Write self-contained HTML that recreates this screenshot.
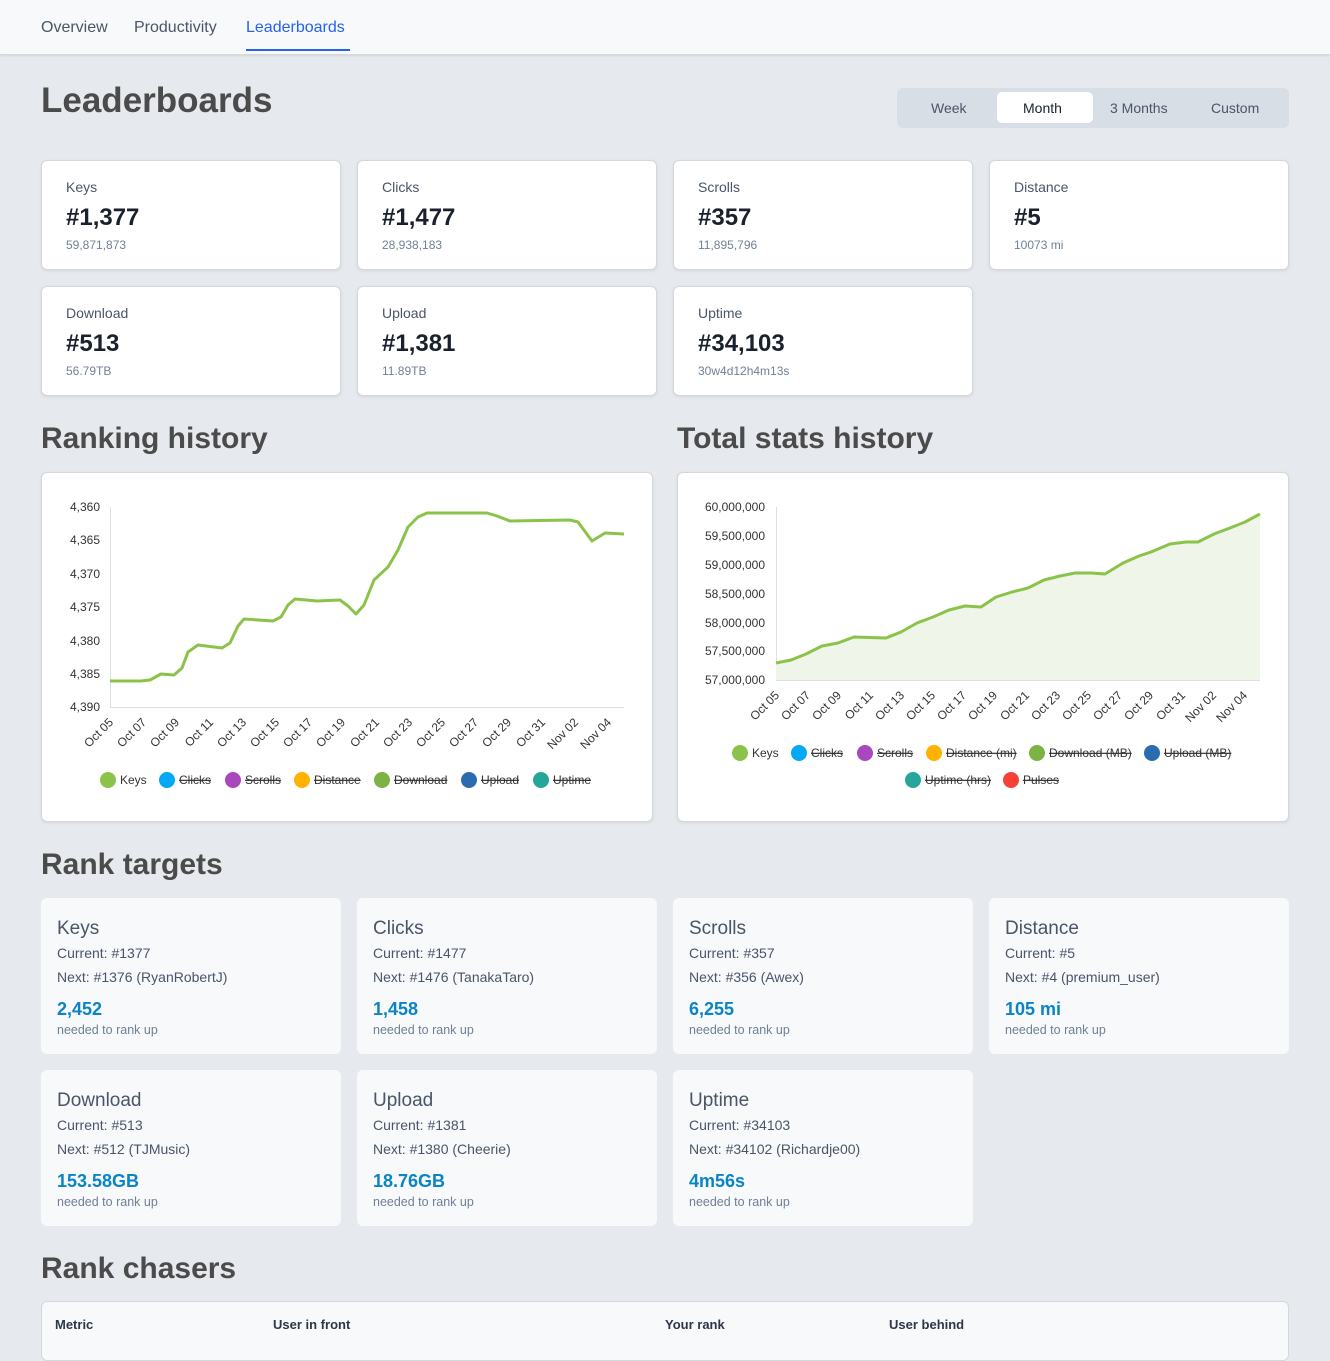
<!DOCTYPE html>
<html><head><meta charset="utf-8"><style>
*{box-sizing:border-box;margin:0;padding:0}
body{width:1330px;height:1329px;overflow:hidden;background:#e6e9ed;font-family:"Liberation Sans","Noto Sans CJK JP",sans-serif;position:relative;color:#4a5568}
.nav{position:absolute;left:0;top:0;width:1330px;height:55px;background:#f8f9fb;border-bottom:1px solid #d5d9de;box-shadow:0 1px 2px rgba(0,0,0,.08)}
.nav span{position:absolute;top:19px;font-size:16px;color:#4a5568}
.a{position:absolute}
h1,h2{position:absolute;left:41px;color:#4b4b4b;font-weight:bold}
h1{font-size:35px;top:81px}
h2{font-size:30px}
.seg{position:absolute;left:897px;top:88px;width:392px;height:40px;background:#d8dee5;border-radius:6px}
.seg span{position:absolute;top:12px;font-size:14px;color:#4a5568}
.card{position:absolute;width:300px;height:110px;background:#fff;border:1px solid #d3d8de;border-radius:6px;box-shadow:0 1px 3px rgba(0,0,0,.08)}
.card .l{position:absolute;left:24px;top:18px;font-size:14px;color:#4a5568}
.card .b{position:absolute;left:24px;top:43px;font-size:24px;font-weight:bold;color:#1a202c}
.card .s{position:absolute;left:24px;top:77px;font-size:12px;color:#718096}
.t{position:absolute;width:300px;height:156px;background:#f7f9fb;border-radius:6px}
.t .h{position:absolute;left:16px;top:20px;font-size:19px;color:#4a5568}
.t .c{position:absolute;left:16px;top:47px;font-size:14px;color:#4a5568}
.t .n{position:absolute;left:16px;top:71px;font-size:14px;color:#4a5568}
.t .v{position:absolute;left:16px;top:101px;font-size:18px;font-weight:bold;color:#0a84c6}
.t .u{position:absolute;left:16px;top:125px;font-size:12.5px;color:#718096}
.panel{position:absolute;top:472px;width:612px;height:350px;background:#fff;border:1px solid #d3d8de;border-radius:6px;box-shadow:0 1px 3px rgba(0,0,0,.08)}
</style></head><body>
<div class="nav">
<span style="left:41px">Overview</span>
<span style="left:134px">Productivity</span>
<span style="left:246px;color:#2563eb">Leaderboards</span>
<div class="a" style="left:246px;top:49px;width:104px;height:2px;background:#2563eb"></div>
</div>
<h1>Leaderboards</h1>
<div class="seg">
<div class="a" style="left:100px;top:4px;width:96px;height:31px;background:#fff;border-radius:5px"></div>
<span style="left:34px">Week</span>
<span style="left:126px;color:#1a202c">Month</span>
<span style="left:213px">3 Months</span>
<span style="left:314px">Custom</span>
</div>

<div class="card" style="left:41px;top:160px"><div class="l">Keys</div><div class="b">#1,377</div><div class="s">59,871,873</div></div>
<div class="card" style="left:357px;top:160px"><div class="l">Clicks</div><div class="b">#1,477</div><div class="s">28,938,183</div></div>
<div class="card" style="left:673px;top:160px"><div class="l">Scrolls</div><div class="b">#357</div><div class="s">11,895,796</div></div>
<div class="card" style="left:989px;top:160px"><div class="l">Distance</div><div class="b">#5</div><div class="s">10073 mi</div></div>
<div class="card" style="left:41px;top:286px"><div class="l">Download</div><div class="b">#513</div><div class="s">56.79TB</div></div>
<div class="card" style="left:357px;top:286px"><div class="l">Upload</div><div class="b">#1,381</div><div class="s">11.89TB</div></div>
<div class="card" style="left:673px;top:286px"><div class="l">Uptime</div><div class="b">#34,103</div><div class="s">30w4d12h4m13s</div></div>

<h2 style="top:422px">Ranking history</h2>
<h2 style="top:422px;left:677px">Total stats history</h2>
<div class="panel" style="left:41px"></div>
<div class="panel" style="left:677px"></div>

<svg class="a" style="left:0;top:0" width="1330" height="1329" font-family="Liberation Sans, Arial, sans-serif">
<g stroke="#dcdfe3" stroke-width="1" fill="none">
<path d="M110.5 507V707.5H624"/>
<path d="M776.5 507V680.5H1260"/>
</g>
<g font-size="12" fill="#333" text-anchor="end">
<text x="100" y="511">4,360</text><text x="100" y="544">4,365</text><text x="100" y="578">4,370</text><text x="100" y="611">4,375</text><text x="100" y="645">4,380</text><text x="100" y="678">4,385</text><text x="100" y="711">4,390</text>
<text x="765" y="511">60,000,000</text><text x="765" y="540">59,500,000</text><text x="765" y="569">59,000,000</text><text x="765" y="598">58,500,000</text><text x="765" y="627">58,000,000</text><text x="765" y="655">57,500,000</text><text x="765" y="684">57,000,000</text>
</g>
<path d="M776,663 L791,660 806,654 822,646 838,643 854,637 886,638 901,632 917,623 933,617 949,610 965,606 981,607 996,597 1012,592 1028,588 1044,580 1060,576 1075,573 1091,573 1105,574 1123,563 1139,556 1151,552 1170,544 1186,542 1198,542 1214,534 1230,528 1245,522 1260,514 L1260,680 L776,680Z" fill="#eff5e8"/>
<polyline fill="none" stroke="#8bc34a" stroke-width="3" stroke-linejoin="round" points="776,663 791,660 806,654 822,646 838,643 854,637 886,638 901,632 917,623 933,617 949,610 965,606 981,607 996,597 1012,592 1028,588 1044,580 1060,576 1075,573 1091,573 1105,574 1123,563 1139,556 1151,552 1170,544 1186,542 1198,542 1214,534 1230,528 1245,522 1260,514"/>
<polyline fill="none" stroke="#8bc34a" stroke-width="3" stroke-linejoin="round" points="110,681 141,681 150,680 161,674 174,675 182,668 188,652 198,645 222,648 230,643 238,626 244,619 273,621 281,617 288,605 295,599 317,601 340,600 348,606 356,614 364,605 374,580 388,567 398,550 408,527 418,517 427,513 439,513 487,513 497,516 510,521 570,520 578,522 592,541 605,533 624,534"/>
<g font-size="12" fill="#333" text-anchor="end">
<text transform="translate(114,723) rotate(-45)">Oct 05</text><text transform="translate(147,723) rotate(-45)">Oct 07</text><text transform="translate(180,723) rotate(-45)">Oct 09</text><text transform="translate(214,723) rotate(-45)">Oct 11</text><text transform="translate(247,723) rotate(-45)">Oct 13</text><text transform="translate(280,723) rotate(-45)">Oct 15</text><text transform="translate(313,723) rotate(-45)">Oct 17</text><text transform="translate(346,723) rotate(-45)">Oct 19</text><text transform="translate(380,723) rotate(-45)">Oct 21</text><text transform="translate(413,723) rotate(-45)">Oct 23</text><text transform="translate(446,723) rotate(-45)">Oct 25</text><text transform="translate(479,723) rotate(-45)">Oct 27</text><text transform="translate(512,723) rotate(-45)">Oct 29</text><text transform="translate(546,723) rotate(-45)">Oct 31</text><text transform="translate(579,723) rotate(-45)">Nov 02</text><text transform="translate(612,723) rotate(-45)">Nov 04</text>
<text transform="translate(780,696) rotate(-45)">Oct 05</text><text transform="translate(811,696) rotate(-45)">Oct 07</text><text transform="translate(842,696) rotate(-45)">Oct 09</text><text transform="translate(874,696) rotate(-45)">Oct 11</text><text transform="translate(905,696) rotate(-45)">Oct 13</text><text transform="translate(936,696) rotate(-45)">Oct 15</text><text transform="translate(967,696) rotate(-45)">Oct 17</text><text transform="translate(998,696) rotate(-45)">Oct 19</text><text transform="translate(1030,696) rotate(-45)">Oct 21</text><text transform="translate(1061,696) rotate(-45)">Oct 23</text><text transform="translate(1092,696) rotate(-45)">Oct 25</text><text transform="translate(1123,696) rotate(-45)">Oct 27</text><text transform="translate(1154,696) rotate(-45)">Oct 29</text><text transform="translate(1186,696) rotate(-45)">Oct 31</text><text transform="translate(1217,696) rotate(-45)">Nov 02</text><text transform="translate(1248,696) rotate(-45)">Nov 04</text>
</g>
<g font-size="12" fill="#333">
<circle cx="108" cy="780" r="8" fill="#8bc34a"/><text x="120" y="784">Keys</text>
<circle cx="167" cy="780" r="8" fill="#03a9f4"/><text x="179" y="784" text-decoration="line-through">Clicks</text>
<circle cx="233" cy="780" r="8" fill="#ab47bc"/><text x="245" y="784" text-decoration="line-through">Scrolls</text>
<circle cx="302" cy="780" r="8" fill="#ffb300"/><text x="314" y="784" text-decoration="line-through">Distance</text>
<circle cx="382" cy="780" r="8" fill="#7cb342"/><text x="394" y="784" text-decoration="line-through">Download</text>
<circle cx="469" cy="780" r="8" fill="#2b6cb0"/><text x="481" y="784" text-decoration="line-through">Upload</text>
<circle cx="541" cy="780" r="8" fill="#26a69a"/><text x="553" y="784" text-decoration="line-through">Uptime</text>

<circle cx="740" cy="753" r="8" fill="#8bc34a"/><text x="752" y="757">Keys</text>
<circle cx="799" cy="753" r="8" fill="#03a9f4"/><text x="811" y="757" text-decoration="line-through">Clicks</text>
<circle cx="865" cy="753" r="8" fill="#ab47bc"/><text x="877" y="757" text-decoration="line-through">Scrolls</text>
<circle cx="934" cy="753" r="8" fill="#ffb300"/><text x="946" y="757" text-decoration="line-through">Distance (mi)</text>
<circle cx="1037" cy="753" r="8" fill="#7cb342"/><text x="1049" y="757" text-decoration="line-through">Download (MB)</text>
<circle cx="1152" cy="753" r="8" fill="#2b6cb0"/><text x="1164" y="757" text-decoration="line-through">Upload (MB)</text>
<circle cx="913" cy="780" r="8" fill="#26a69a"/><text x="925" y="784" text-decoration="line-through">Uptime (hrs)</text>
<circle cx="1011" cy="780" r="8" fill="#f44336"/><text x="1023" y="784" text-decoration="line-through">Pulses</text>
</g>
</svg>

<h2 style="top:848px">Rank targets</h2>
<div class="t" style="left:41px;top:898px"><div class="h">Keys</div><div class="c">Current: #1377</div><div class="n">Next: #1376 (RyanRobertJ)</div><div class="v">2,452</div><div class="u">needed to rank up</div></div>
<div class="t" style="left:357px;top:898px"><div class="h">Clicks</div><div class="c">Current: #1477</div><div class="n">Next: #1476 (TanakaTaro)</div><div class="v">1,458</div><div class="u">needed to rank up</div></div>
<div class="t" style="left:673px;top:898px"><div class="h">Scrolls</div><div class="c">Current: #357</div><div class="n">Next: #356 (Awex)</div><div class="v">6,255</div><div class="u">needed to rank up</div></div>
<div class="t" style="left:989px;top:898px"><div class="h">Distance</div><div class="c">Current: #5</div><div class="n">Next: #4 (premium_user)</div><div class="v">105 mi</div><div class="u">needed to rank up</div></div>
<div class="t" style="left:41px;top:1070px"><div class="h">Download</div><div class="c">Current: #513</div><div class="n">Next: #512 (TJMusic)</div><div class="v">153.58GB</div><div class="u">needed to rank up</div></div>
<div class="t" style="left:357px;top:1070px"><div class="h">Upload</div><div class="c">Current: #1381</div><div class="n">Next: #1380 (Cheerie)</div><div class="v">18.76GB</div><div class="u">needed to rank up</div></div>
<div class="t" style="left:673px;top:1070px"><div class="h">Uptime</div><div class="c">Current: #34103</div><div class="n">Next: #34102 (Richardje00)</div><div class="v">4m56s</div><div class="u">needed to rank up</div></div>

<h2 style="top:1252px">Rank chasers</h2>
<div class="a" style="left:41px;top:1301px;width:1248px;height:60px;background:#f7f9fb;border:1px solid #d3d8de;border-radius:6px">
<span class="a" style="left:13px;top:15px;font-size:13px;font-weight:bold;color:#2d3748">Metric</span>
<span class="a" style="left:231px;top:15px;font-size:13px;font-weight:bold;color:#2d3748">User in front</span>
<span class="a" style="left:623px;top:15px;font-size:13px;font-weight:bold;color:#2d3748">Your rank</span>
<span class="a" style="left:847px;top:15px;font-size:13px;font-weight:bold;color:#2d3748">User behind</span>
</div>
</body></html>
